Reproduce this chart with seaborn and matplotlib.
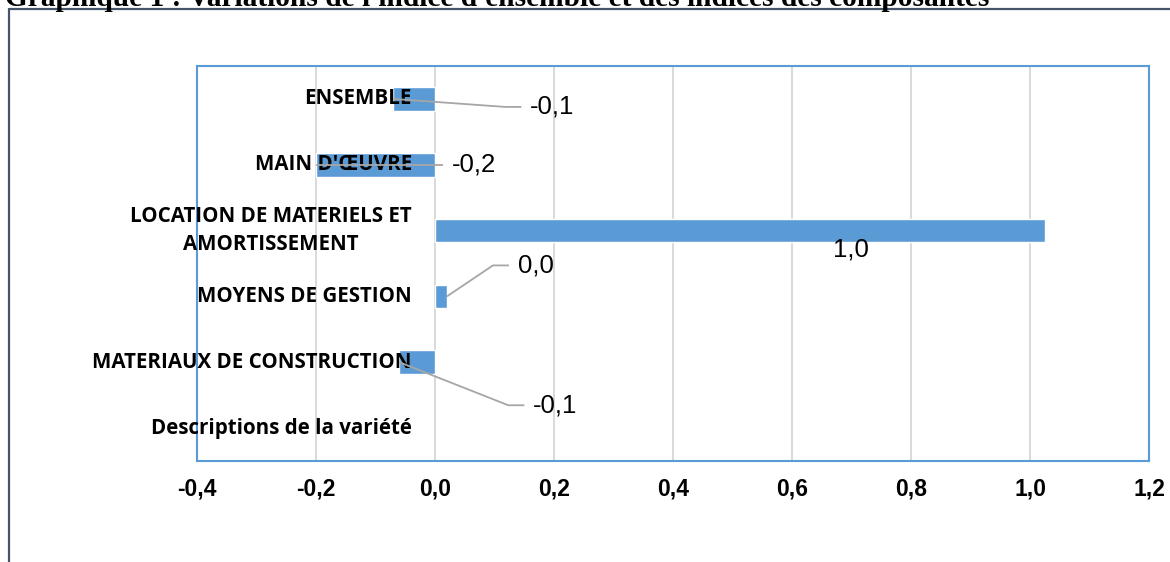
import matplotlib
matplotlib.use("Agg")
import matplotlib.pyplot as plt
from matplotlib.lines import Line2D
import seaborn as sns
import pandas as pd
import numpy as np

# ---- data ----
categories = ["ENSEMBLE", "MAIN D'ŒUVRE", "LOCATION DE MATERIELS ET\nAMORTISSEMENT",
              "MOYENS DE GESTION", "MATERIAUX DE CONSTRUCTION", "Descriptions de la variété"]
values = [-0.07, -0.20, 1.025, 0.02, -0.06, np.nan]
x_ticks = [-0.4, -0.2, 0.0, 0.2, 0.4, 0.6, 0.8, 1.0, 1.2]
title = "Graphique 1 : Variations de l'indice d'ensemble et des indices des composantes"

# ---- label layout (pixel offsets from bar end; y positive = down) ----
label_offsets = [(137, 8), (136, 0), (-194, 19), (71, -31), (134, 43), None]
has_leader = [True, True, False, True, True, False]

BLUE = "#5B9BD5"
GRID = "#D9D9D9"
LEADER = "#A6A6A6"

sns.set_theme(style="white")
plt.rcParams['font.family'] = ['Open Sans', 'DejaVu Sans']

W, H, DPI = 1170, 562, 100
fig = plt.figure(figsize=(W / DPI, H / DPI), dpi=DPI)
ax = fig.add_axes([197 / W, 1 - 461 / H, (1149 - 197) / W, (461 - 66) / H])

df = pd.DataFrame({"cat": categories, "val": values})
sns.barplot(data=df, x="val", y="cat", order=categories, orient="h",
            color=BLUE, saturation=1, width=0.36, ax=ax, errorbar=None)

ax.set_xlim(-0.4, 1.2)
ax.set_ylim(len(categories) - 0.5, -0.5)
ax.set_xticks(x_ticks)
ax.set_xticklabels([f"{t:.1f}".replace(".", ",") for t in x_ticks],
                   fontfamily="Liberation Sans", fontweight="bold", fontsize=16.5)
ax.tick_params(axis="x", length=0, pad=12, labelcolor="black")
ax.set_yticks([])
ax.set_xlabel("")
ax.set_ylabel("")
ax.grid(axis="x", color=GRID, lw=1.4)
ax.set_axisbelow(True)
for s in ax.spines.values():
    s.set_color(BLUE)
    s.set_linewidth(1.5)

# category labels next to the zero axis
for i, c in enumerate(categories):
    ax.annotate(c, xy=(0, i), xycoords="data", xytext=(-23, 0),
                textcoords="offset pixels", ha="right", va="center",
                multialignment="center", fontsize=14.8, fontweight="bold",
                color="black", linespacing=1.45)

# data labels with leader lines
px_per_unit = (1149 - 197) / 1.6
px_per_cat = (461 - 66) / len(categories)
for i, (v, off, lead) in enumerate(zip(values, label_offsets, has_leader)):
    if off is None or np.isnan(v):
        continue
    dx, dy = off
    txt = f"{v:.1f}".replace(".", ",")
    tx = v + dx / px_per_unit
    ty = i + dy / px_per_cat
    if lead:
        ax.text(tx, ty, txt, ha="left", va="center", fontfamily="Liberation Sans",
                fontsize=18.5, color="black")
        kx = v + (dx - 25) / px_per_unit
        ex = v + (dx - 9) / px_per_unit
        ax.plot([v, kx, ex], [i, ty, ty], color=LEADER, lw=1.3, zorder=5,
                solid_capstyle="butt")
    else:
        ax.text(tx, ty, txt, ha="center", va="center", fontfamily="Liberation Sans",
                fontsize=18.5, color="black")

# outer frame and clipped title
fig.add_artist(Line2D([9 / W, 9 / W], [0, 1 - 9 / H], transform=fig.transFigure,
                      color="#44546A", lw=1.6))
fig.add_artist(Line2D([9 / W, 1], [1 - 9 / H, 1 - 9 / H], transform=fig.transFigure,
                      color="#44546A", lw=1.6))
fig.text(5 / W, 1 - 6 / H, title, ha="left", va="baseline",
         fontfamily="Liberation Serif", fontweight="bold", fontsize=21.2, color="black")

fig.savefig("out.png", dpi=DPI)
